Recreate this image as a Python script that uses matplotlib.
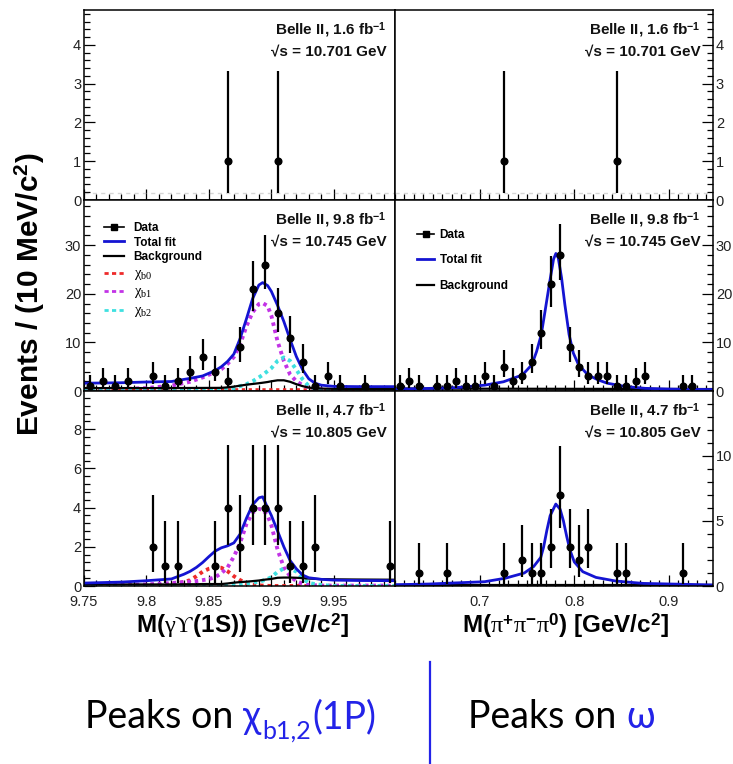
import matplotlib
matplotlib.use('Agg')
import matplotlib.pyplot as plt
import numpy as np
from matplotlib.ticker import MultipleLocator, FuncFormatter
from matplotlib.lines import Line2D
from matplotlib.transforms import IdentityTransform

plt.rcParams['font.family'] = ['Liberation Sans', 'DejaVu Sans']
plt.rcParams['mathtext.fontset'] = 'custom'
plt.rcParams['mathtext.rm'] = 'Liberation Serif'
plt.rcParams['mathtext.it'] = 'Liberation Serif:italic'
plt.rcParams['mathtext.bf'] = 'Liberation Sans:bold'
plt.rcParams['mathtext.sf'] = 'Liberation Sans:bold'
plt.rcParams['mathtext.fallback'] = 'stix'

# ---- M(gamma Upsilon(1S)) spectra, 10 MeV bins ----
chib_x_701 = [9.865, 9.905]
chib_n_701 = [1, 1]
chib_x_745 = [9.755, 9.765, 9.775, 9.785, 9.805, 9.815, 9.825, 9.835, 9.845, 9.855, 9.865,
              9.875, 9.885, 9.895, 9.905, 9.915, 9.925, 9.935, 9.945, 9.955, 9.975]
chib_n_745 = [1, 2, 1, 2, 3, 1, 2, 4, 7, 4, 2, 9, 21, 26, 16, 11, 6, 1, 3, 1, 1]
chib_x_805 = [9.805, 9.815, 9.825, 9.855, 9.865, 9.875, 9.885, 9.895, 9.905, 9.915, 9.925, 9.935, 9.995]
chib_n_805 = [2, 1, 1, 1, 4, 2, 4, 4, 4, 1, 1, 2, 1]

# fit curves at 10.745 GeV
fit_x_745 = [9.75, 9.78, 9.80, 9.82, 9.835, 9.845, 9.855, 9.86, 9.865, 9.87, 9.875, 9.88, 9.885, 9.89,
             9.893, 9.897, 9.90, 9.905, 9.91, 9.915, 9.92, 9.925, 9.93, 9.935, 9.94, 9.95, 9.97, 10.0]
total_745 = [1.6, 1.7, 1.85, 1.95, 2.6, 3.1, 4.2, 5.0, 6.1, 7.6, 10.8, 14.8, 19.0, 21.8,
             22.3, 21.7, 20.5, 17.6, 14.3, 10.6, 7.1, 4.4, 2.5, 1.6, 1.2, 0.95, 0.9, 0.9]
bkg_745 = [0.6, 0.6, 0.6, 0.6, 0.62, 0.63, 0.64, 0.65, 0.75, 0.9, 1.1, 1.3, 1.45, 1.6,
           1.7, 1.85, 2.0, 2.2, 2.2, 1.9, 1.4, 1.0, 0.7, 0.55, 0.5, 0.45, 0.4, 0.4]
chib0_745 = [0.25] * 28
chib1_745 = [0.25, 0.4, 0.6, 1.1, 1.9, 2.8, 3.9, 4.5, 5.6, 7.0, 9.6, 13.3, 16.2, 17.9,
             18.1, 17.5, 15.5, 10.2, 6.2, 3.4, 2.0, 1.2, 0.75, 0.5, 0.35, 0.2, 0.1, 0.05]
chib2_745 = [0.0, 0.0, 0.0, 0.02, 0.05, 0.08, 0.12, 0.25, 0.4, 0.6, 1.0, 1.4, 2.0, 2.8,
             3.3, 4.1, 4.7, 6.2, 6.9, 6.2, 4.4, 2.4, 1.0, 0.45, 0.2, 0.05, 0.0, 0.0]

# fit curves at 10.805 GeV
fit_x_805 = [9.75, 9.78, 9.80, 9.82, 9.83, 9.835, 9.84, 9.845, 9.85, 9.855, 9.86, 9.865, 9.87, 9.875,
             9.88, 9.885, 9.89, 9.893, 9.897, 9.90, 9.905, 9.91, 9.915, 9.92, 9.925, 9.93, 9.94,
             9.95, 9.97, 10.0]
total_805 = [0.15, 0.2, 0.27, 0.36, 0.6, 0.75, 0.95, 1.2, 1.5, 1.78, 1.95, 2.05, 2.2, 2.65,
             3.45, 4.15, 4.5, 4.55, 4.0, 3.6, 2.8, 2.0, 1.3, 0.88, 0.56, 0.42, 0.34,
             0.3, 0.28, 0.27]
bkg_805 = [0.08, 0.08, 0.08, 0.08, 0.09, 0.09, 0.09, 0.1, 0.1, 0.1, 0.1, 0.13, 0.17, 0.2,
           0.22, 0.25, 0.28, 0.31, 0.34, 0.36, 0.42, 0.43, 0.43, 0.42, 0.4, 0.38, 0.35,
           0.34, 0.33, 0.32]
chib0_805 = [0.0, 0.01, 0.03, 0.08, 0.2, 0.3, 0.5, 0.73, 0.88, 0.95, 0.93, 0.75, 0.5, 0.3,
             0.14, 0.07, 0.03, 0.02, 0.01, 0.0, 0.0, 0.0, 0.0, 0.0, 0.0, 0.0, 0.0,
             0.0, 0.0, 0.0]
chib1_805 = [0.02, 0.05, 0.08, 0.15, 0.2, 0.22, 0.25, 0.3, 0.35, 0.45, 0.65, 0.95, 1.5, 2.2,
             3.15, 3.75, 3.93, 3.9, 3.6, 3.1, 1.85, 0.95, 0.5, 0.25, 0.12, 0.05, 0.02,
             0.02, 0.02, 0.02]
chib2_805 = [0.0, 0.0, 0.0, 0.0, 0.0, 0.0, 0.0, 0.0, 0.02, 0.03, 0.04, 0.05, 0.05, 0.08,
             0.13, 0.17, 0.22, 0.27, 0.36, 0.45, 0.72, 0.9, 0.9, 0.73, 0.4, 0.15, 0.05,
             0.0, 0.0, 0.0]

# ---- M(pi+ pi- pi0) spectra, 10 MeV bins ----
omega_x_701 = [0.725, 0.845]
omega_n_701 = [1, 1]
omega_x_745 = [0.615, 0.625, 0.635, 0.655, 0.665, 0.675, 0.685, 0.695, 0.705, 0.715, 0.725, 0.735,
               0.745, 0.755, 0.765, 0.775, 0.785, 0.795, 0.805, 0.815, 0.825, 0.835, 0.845,
               0.855, 0.865, 0.875, 0.915, 0.925]
omega_n_745 = [1, 2, 1, 1, 1, 2, 1, 1, 3, 1, 5, 2, 3, 6, 12, 22, 28, 9, 5, 3, 3, 3, 1, 1, 2, 3, 1, 1]
omega_x_805 = [0.635, 0.665, 0.725, 0.745, 0.755, 0.765, 0.775, 0.785, 0.795, 0.805, 0.815,
               0.845, 0.855, 0.915]
omega_n_805 = [1, 1, 1, 2, 1, 1, 3, 7, 3, 2, 3, 1, 1, 1]

om_fit_x_745 = [0.61, 0.64, 0.675, 0.705, 0.725, 0.745, 0.755, 0.76, 0.765, 0.769, 0.774, 0.778,
                0.7805, 0.783, 0.7865, 0.79, 0.7945, 0.799, 0.8045, 0.8145, 0.825, 0.835,
                0.855, 0.875, 0.90, 0.947]
om_total_745 = [0.4, 0.5, 0.7, 1.2, 1.9, 3.3, 5.4, 8.1, 11.6, 16.4, 22.5, 27.1, 28.3, 27.4,
                23.3, 17.8, 11.6, 7.8, 5.4, 3.3, 2.3, 1.6, 0.9, 0.55, 0.4, 0.3]
om_bkg_x_745 = [0.61, 0.78, 0.947]
om_bkg_745 = [0.5, 0.45, 0.4]

om_fit_x_805 = [0.61, 0.645, 0.705, 0.727, 0.747, 0.757, 0.7645, 0.7675, 0.771, 0.7744, 0.7804,
                0.785, 0.7885, 0.792, 0.7955, 0.80, 0.809, 0.823, 0.844, 0.873, 0.947]
om_total_805 = [0.1, 0.15, 0.33, 0.6, 1.0, 1.5, 2.2, 3.0, 4.3, 5.4, 6.3,
                5.9, 5.0, 3.8, 2.75, 1.85, 1.1, 0.66, 0.38, 0.2, 0.08]
om_bkg_x_805 = [0.61, 0.947]
om_bkg_805 = [0.1, 0.1]

# empty fit level in the 10.701 GeV sample
empty_fit_level = [0.18, 0.18]

BLUE = '#1414d2'
RED = '#ee2a2a'
VIOLET = '#c233e6'
CYAN = '#3fe0e0'
TXT_BLUE = '#2323e8'
DOT = (0, (0.9, 1.0))


def poisson_err(n):
    # approximate Garwood 68% interval for a Poisson count
    n = np.asarray(n, float)
    hi = n + np.sqrt(n + 0.75) + 1.0
    lo = n * (1 - 1 / (9 * n) - 1 / (3 * np.sqrt(n))) ** 3
    return [n - lo, hi - n]


def draw_data(ax, x, n):
    ax.errorbar(x, n, yerr=poisson_err(n), fmt='o', color='black', ms=4.8,
                elinewidth=1.6, capsize=0, zorder=5)


W, H = 733, 764
fig = plt.figure(figsize=(W / 100, H / 100), dpi=100)


def box(x0, y0, x1, y1):
    return [x0 / W, 1 - y1 / H, (x1 - x0) / W, (y1 - y0) / H]


rows = [(10, 200), (200, 391), (391, 586)]
cols = [(84, 395), (395, 713)]
axes = [[fig.add_axes(box(c[0], r[0], c[1], r[1])) for c in cols] for r in rows]

ylims = [(0, 4.9), (0, 39.3), (0, 9.95)]
ylims_r = [(0, 4.9), (0, 39.3), (0, 14.99)]
ymaj = [(1, 0.2), (10, 2), (2, 0.4)]
ymaj_r = [(1, 0.2), (10, 2), (5, 1)]

for r in range(3):
    for c in range(2):
        ax = axes[r][c]
        for sp in ax.spines.values():
            sp.set_linewidth(1.1)
        left = c == 0
        if left:
            ax.set_xlim(9.75, 9.999)
            ax.xaxis.set_major_locator(MultipleLocator(0.05))
            ax.xaxis.set_minor_locator(MultipleLocator(0.01))
            ax.set_ylim(*ylims[r])
            ax.yaxis.set_major_locator(MultipleLocator(ymaj[r][0]))
            ax.yaxis.set_minor_locator(MultipleLocator(ymaj[r][1]))
        else:
            ax.set_xlim(0.61, 0.947)
            ax.xaxis.set_major_locator(MultipleLocator(0.1))
            ax.xaxis.set_minor_locator(MultipleLocator(0.01))
            ax.set_ylim(*ylims_r[r])
            ax.yaxis.set_major_locator(MultipleLocator(ymaj_r[r][0]))
            ax.yaxis.set_minor_locator(MultipleLocator(ymaj_r[r][1]))
        ax.xaxis.set_major_formatter(FuncFormatter(lambda v, p: f'{v:g}'))
        ax.tick_params(which='both', direction='in', top=False, bottom=True,
                       left=left, right=not left, labelleft=left, labelright=not left,
                       labelbottom=(r == 2), labelsize=10.5, labelcolor='#222222', width=0.9)
        ax.tick_params(which='major', length=8)
        ax.tick_params(which='minor', length=4.5)
        ax.tick_params(axis='y', pad=2)
        ax.tick_params(axis='x', pad=6.5)

# top row: 10.701 GeV
axes[0][0].plot([9.75, 10.0], empty_fit_level, color='#999999', lw=1, ls=(0, (3, 3)), alpha=0.4)
axes[0][1].plot([0.61, 0.947], empty_fit_level, color='#999999', lw=1, ls=(0, (3, 3)), alpha=0.4)
draw_data(axes[0][0], chib_x_701, chib_n_701)
draw_data(axes[0][1], omega_x_701, omega_n_701)

# middle row: 10.745 GeV
ax = axes[1][0]
ax.plot(fit_x_745, chib0_745, color=RED, lw=2.6, ls=DOT)
ax.plot(fit_x_745, chib1_745, color=VIOLET, lw=2.8, ls=DOT)
ax.plot(fit_x_745, chib2_745, color=CYAN, lw=2.8, ls=DOT)
ax.plot(fit_x_745, bkg_745, color='black', lw=1.6)
ax.plot(fit_x_745, total_745, color=BLUE, lw=2.0)
draw_data(ax, chib_x_745, chib_n_745)

ax = axes[1][1]
ax.plot(om_bkg_x_745, om_bkg_745, color='black', lw=1.6)
ax.plot(om_fit_x_745, om_total_745, color=BLUE, lw=2.0)
draw_data(ax, omega_x_745, omega_n_745)

# bottom row: 10.805 GeV
ax = axes[2][0]
ax.plot(fit_x_805, chib0_805, color=RED, lw=2.8, ls=DOT)
ax.plot(fit_x_805, chib1_805, color=VIOLET, lw=2.8, ls=DOT)
ax.plot(fit_x_805, chib2_805, color=CYAN, lw=2.8, ls=DOT)
ax.plot(fit_x_805, bkg_805, color='black', lw=1.6)
ax.plot(fit_x_805, total_805, color=BLUE, lw=2.0)
draw_data(ax, chib_x_805, chib_n_805)

ax = axes[2][1]
ax.plot(om_bkg_x_805, om_bkg_805, color='black', lw=1.6)
ax.plot(om_fit_x_805, om_total_805, color=BLUE, lw=2.0)
draw_data(ax, omega_x_805, omega_n_805)

# run labels
runs = [('1.6', '10.701'), ('9.8', '10.745'), ('4.7', '10.805')]
for r, (lumi, ecm) in enumerate(runs):
    for c, xr in enumerate([0.974, 0.96]):
        ax = axes[r][c]
        ax.annotate('Belle II, ' + lumi + r' fb$^{\mathbf{-1}}$', xy=(xr, 1), xycoords='axes fraction',
                    xytext=(0, -20), textcoords='offset pixels', ha='right', va='center',
                    fontsize=11, fontweight='bold', color='#111111')
        ax.annotate('\u221as = ' + ecm + ' GeV', xy=(xr, 1), xycoords='axes fraction',
                    xytext=(0, -41), textcoords='offset pixels', ha='right', va='center',
                    fontsize=11, fontweight='bold', color='#111111')

# legends
h_data = Line2D([], [], color='black', marker='s', ms=4.5, lw=1.2)
h_fit = Line2D([], [], color=BLUE, lw=2.0)
h_bkg = Line2D([], [], color='black', lw=1.6)
h_b0 = Line2D([], [], color=RED, lw=2.0, ls=(0, (1.5, 1.2)))
h_b1 = Line2D([], [], color=VIOLET, lw=2.0, ls=(0, (1.5, 1.2)))
h_b2 = Line2D([], [], color=CYAN, lw=2.0, ls=(0, (1.5, 1.2)))
leg = axes[1][0].legend([h_data, h_fit, h_bkg, h_b0, h_b1, h_b2],
                        ['Data', 'Total fit', 'Background', r'$\mathrm{\chi}_{\mathrm{b0}}$',
                         r'$\mathrm{\chi}_{\mathrm{b1}}$', r'$\mathrm{\chi}_{\mathrm{b2}}$'],
                        loc='upper left', bbox_to_anchor=(0.065, 0.885), frameon=False,
                        handlelength=1.7, handletextpad=0.8, labelspacing=0.22, borderpad=0,
                        borderaxespad=0, prop={'weight': 'bold', 'size': 8.5})
for t in leg.get_texts()[3:]:
    t.set_fontsize(10.5)
axes[1][1].legend([h_data, h_fit, h_bkg], ['Data', 'Total fit', 'Background'],
                  loc='upper left', bbox_to_anchor=(0.07, 0.85), frameon=False,
                  handlelength=1.45, handletextpad=0.45, labelspacing=1.15, borderpad=0,
                  borderaxespad=0, prop={'weight': 'bold', 'size': 8.5})

# axis titles
fig.text(30 / W, 1 - 294 / H, r'Events / (10 MeV/c$^{\mathbf{2}}$)', rotation=90,
         ha='center', va='center', fontsize=21.5, fontweight='bold')
fig.text(242 / W, 1 - 626 / H, r'M($\mathrm{\gamma}$$\mathrm{ϒ}$(1S)) [GeV/c$^{\mathbf{2}}$]',
         ha='center', va='center', fontsize=17.5, fontweight='bold')
fig.text(566 / W, 1 - 626 / H,
         r'M($\mathrm{\pi}^{\mathbf{+}}\mathrm{\pi}^{\mathbf{-}}\mathrm{\pi}^{\mathbf{0}}$) [GeV/c$^{\mathbf{2}}$]',
         ha='center', va='center', fontsize=17.5, fontweight='bold')

# captions under the panels
renderer = fig.canvas.get_renderer()
cap_font = ['Lato', 'DejaVu Sans']


def caption(x, y, pieces):
    for s, color, size, dy, gap in pieces:
        t = fig.text(x, y + dy, s, color=color, fontsize=size, family=cap_font,
                     transform=IdentityTransform(), ha='left', va='baseline')
        x = t.get_window_extent(renderer).x1 + gap


caption(85, H - 728, [('Peaks on', 'black', 27, 0, 10),
                      ('χ', TXT_BLUE, 27, 0, 1),
                      ('b1,2', TXT_BLUE, 18, -11, 1),
                      ('(1P)', TXT_BLUE, 27, 0, 0)])
caption(468, H - 728, [('Peaks on', 'black', 27, 0, 10),
                       ('ω', TXT_BLUE, 27, 0, 0)])
fig.add_artist(Line2D([430 / W, 430 / W], [0, 1 - 662 / H], transform=fig.transFigure,
                      color=TXT_BLUE, lw=1.6))

fig.savefig('out.png', dpi=100)
